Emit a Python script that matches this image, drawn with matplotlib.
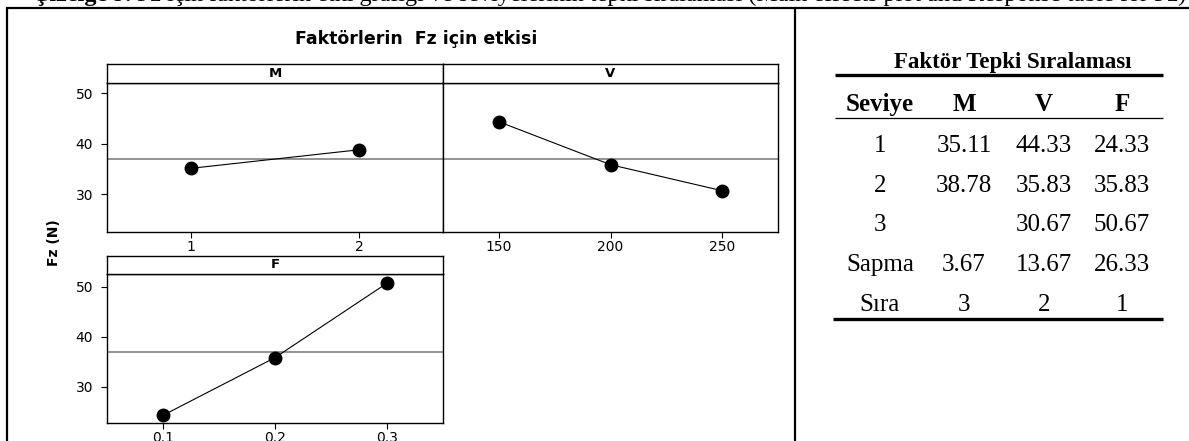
import matplotlib
matplotlib.use("Agg")
import matplotlib.pyplot as plt
from matplotlib.lines import Line2D
from matplotlib.text import Annotation

# main effects data (level means of Fz)
M_levels = [1, 2]
M_means = [35.11, 38.78]
V_levels = [150, 200, 250]
V_means = [44.33, 35.83, 30.67]
F_levels = [0.1, 0.2, 0.3]
F_means = [24.33, 35.83, 50.67]
grand_mean = 36.94

# response table
table_header = ["Seviye", "M", "V", "F"]
row_labels = ["1", "2", "3", "Sapma", "Sıra"]
col_M = ["35.11", "38.78", "", "3.67", "3"]
col_V = ["44.33", "35.83", "30.67", "13.67", "2"]
col_F = ["24.33", "35.83", "50.67", "26.33", "1"]

W, H = 1189, 441
fig = plt.figure(figsize=(W / 100, H / 100), dpi=100)

def fx(x):
    return x / W

def fy(y):
    return 1 - y / H

def px_axes(x0, y0, x1, y1):
    return fig.add_axes([fx(x0), fy(y1), (x1 - x0) / W, (y1 - y0) / H])

def hline(x0, x1, y, lw, color="black"):
    fig.add_artist(Line2D([fx(x0), fx(x1)], [fy(y), fy(y)], lw=lw, color=color,
                          transform=fig.transFigure, solid_capstyle="butt"))

def vline(x, y0, y1, lw):
    fig.add_artist(Line2D([fx(x), fx(x)], [fy(y0), fy(y1)], lw=lw, color="black",
                          transform=fig.transFigure, solid_capstyle="butt"))

# caption, cut off at the top edge like the scan
serif = "Liberation Serif"
cap = fig.text(fx(32), fy(1.5), "Çizelge 9.", family=serif, fontsize=17.4, fontweight="bold",
               va="baseline", ha="left")
fig.add_artist(Annotation(
    "Fz için faktörlerin etki grafiği ve seviyelerinin tepki sıralaması "
    "(Main effects plot and Response table for Fz)",
    xy=(1, 0), xycoords=cap, xytext=(4, 0), textcoords="offset points",
    family=serif, fontsize=17.4, va="bottom", ha="left"))

# outer frame
hline(6, W, 8, 1.6)
vline(7, 7, H, 1.6)
vline(795, 7, H, 1.6)


def panel(x0, x1, y_strip, y_top, y_bot, xs, ys, xlim, ylim, label, left_labels):
    ax = px_axes(x0, y_top, x1, y_bot)
    ax.axhline(grand_mean, color="#808080", lw=1.2, zorder=1)
    ax.plot(xs, ys, color="black", lw=0.8, marker="o", ms=9, zorder=3)
    ax.set_xlim(*xlim)
    ax.set_ylim(*ylim)
    ax.set_xticks(xs)
    ax.set_xticklabels([f"{v:g}" for v in xs])
    ax.set_yticks([30, 40, 50])
    ax.tick_params(direction="out", length=4, width=0.8, labelsize=10, pad=2)
    ax.tick_params(axis="y", pad=6)
    if not left_labels:
        ax.tick_params(axis="y", left=False, labelleft=False)
    for s in ax.spines.values():
        s.set_linewidth(1.0)
    sax = px_axes(x0, y_strip, x1, y_top)
    sax.set_xticks([])
    sax.set_yticks([])
    for s in sax.spines.values():
        s.set_linewidth(1.0)
    sax.text(0.5, 0.5, label, ha="center", va="center", fontsize=9.5,
             fontweight="bold", transform=sax.transAxes)
    return ax


panel(107, 443, 64, 83, 232, M_levels, M_means, (0.5, 2.5), (22.5, 52.0), "M", True)
panel(443, 778, 64, 83, 232, V_levels, V_means, (125, 275), (22.5, 52.0), "V", False)
panel(107, 443, 256, 274, 423, F_levels, F_means, (0.05, 0.35), (22.8, 52.5), "F", True)

fig.text(fx(416), fy(44), "Faktörlerin  Fz için etkisi", fontsize=12.5, fontweight="bold",
         ha="center", va="baseline")
fig.text(fx(54), fy(243), "Fz (N)", fontsize=10, fontweight="bold", rotation=90,
         ha="center", va="center")

# response table on the right
fig.text(fx(1013), fy(68), "Faktör Tepki Sıralaması", family=serif, fontsize=16.5,
         fontweight="bold", ha="center", va="baseline")
hline(835, 1163, 74.5, 2.4)
col_x = [880, 964, 1044, 1122]
for x, h in zip(col_x, table_header):
    fig.text(fx(x), fy(111), h, family=serif, fontsize=18, fontweight="bold",
             ha="center", va="baseline")
hline(835, 1163, 117.5, 0.9)
row_base = [151.5, 191.5, 231, 271, 311]
for i, yb in enumerate(row_base):
    for x, txt in zip(col_x, [row_labels[i], col_M[i], col_V[i], col_F[i]]):
        fig.text(fx(x), fy(yb), txt, family=serif, fontsize=18, ha="center", va="baseline")
hline(833, 1163, 319, 2.4)

fig.savefig("out.png", dpi=100)
